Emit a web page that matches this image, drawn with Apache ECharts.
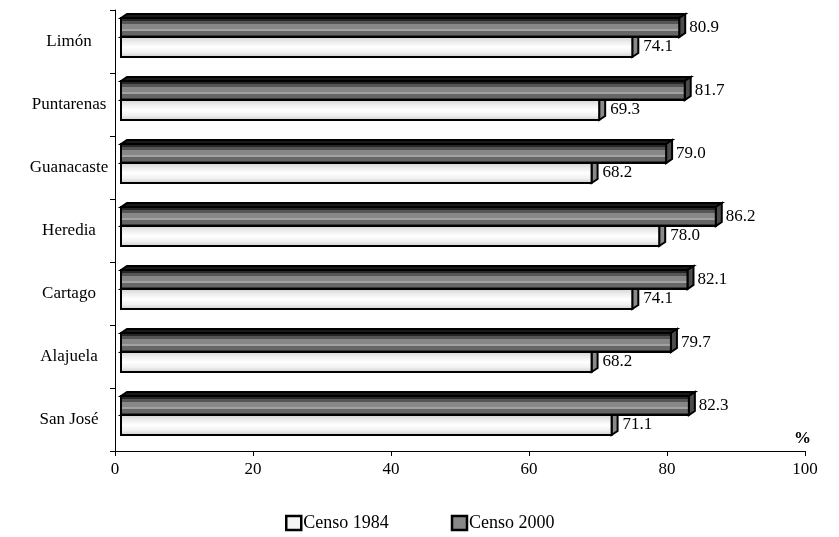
<!DOCTYPE html>
<html>
<head>
<meta charset="utf-8">
<script src="https://cdn.jsdelivr.net/npm/echarts@6/dist/echarts.min.js"></script>
<style>
  html, body { margin: 0; padding: 0; background: #fff; }
  #chart { width: 839px; height: 537px; }
</style>
</head>
<body>
<div id="chart"></div>
<script>
// bottom to top, as on the y axis
const provinces = ['San José', 'Alajuela', 'Cartago', 'Heredia', 'Guanacaste', 'Puntarenas', 'Limón']
const censo1984 = [71.1, 68.2, 74.1, 78.0, 68.2, 69.3, 74.1]
const censo2000 = [82.3, 79.7, 82.1, 86.2, 79.0, 81.7, 80.9]
const xTicks = [0, 20, 40, 60, 80, 100]

const FONT = '"Liberation Serif", "Times New Roman", serif'

const grad2000 = new echarts.graphic.LinearGradient(0, 0, 0, 1, [
  { offset: 0, color: '#262626' },
  { offset: 0.18, color: '#262626' },
  { offset: 0.18, color: '#555555' },
  { offset: 0.35, color: '#555555' },
  { offset: 0.35, color: '#878787' },
  { offset: 0.55, color: '#878787' },
  { offset: 0.55, color: '#a2a2a2' },
  { offset: 0.68, color: '#a2a2a2' },
  { offset: 0.68, color: '#666666' },
  { offset: 0.85, color: '#666666' },
  { offset: 0.85, color: '#383838' },
  { offset: 1, color: '#383838' },
])
const grad1984 = new echarts.graphic.LinearGradient(0, 0, 0, 1, [
  { offset: 0, color: '#d0d0d0' },
  { offset: 0.25, color: '#ebebeb' },
  { offset: 0.5, color: '#ffffff' },
  { offset: 0.75, color: '#f0f0f0' },
  { offset: 1, color: '#c8c8c8' },
])

// pseudo 3D bar: front face, top face, end cap, value label
function bar3d(top, bottom, front, capColor, topColor, gap) {
  return (params, api) => {
    const v = api.value(0)
    const cat = api.value(1)
    const p0 = api.coord([0, cat])
    const p1 = api.coord([v, cat])
    const band = api.size([0, 1])[1]
    const c = p0[1]
    const y0 = c + top * band
    const y1 = c + bottom * band
    const x0 = p0[0] + 6
    const x1 = p1[0] + 6
    const dx = 6, dy = 4
    const stroke = { stroke: '#000', lineWidth: 2 }
    return {
      type: 'group',
      children: [
        {
          type: 'polygon',
          shape: { points: [[x0, y0], [x0 + dx, y0 - dy], [x1 + dx, y0 - dy], [x1, y0]] },
          style: { fill: topColor, ...stroke },
        },
        {
          type: 'polygon',
          shape: { points: [[x1, y0], [x1 + dx, y0 - dy], [x1 + dx, y1 - dy], [x1, y1]] },
          style: { fill: capColor, ...stroke },
        },
        {
          type: 'rect',
          shape: { x: x0, y: y0, width: x1 - x0, height: y1 - y0 },
          style: { fill: front, ...stroke },
        },
        {
          type: 'text',
          style: {
            text: v.toFixed(1),
            x: x1 + dx + gap,
            y: (y0 + y1) / 2,
            verticalAlign: 'middle',
            fill: '#000',
            font: '17px ' + FONT,
          },
        },
      ],
    }
  }
}

const chart = echarts.init(document.getElementById('chart'))
chart.setOption({
  animation: false,
  backgroundColor: '#fff',
  grid: { left: 115, right: 34, top: 10, bottom: 86 },
  legend: {
    left: 285,
    top: 514,
    padding: 0,
    itemWidth: 15,
    itemHeight: 14,
    itemGap: 62,
    textStyle: { fontFamily: FONT, fontSize: 18, color: '#000', padding: [0, 0, 0, -3] },
    data: [
      { name: 'Censo 1984', icon: 'rect', itemStyle: { color: '#f4f4f4', borderColor: '#000', borderWidth: 2.5 } },
      { name: 'Censo 2000', icon: 'rect', itemStyle: { color: '#888888', borderColor: '#000', borderWidth: 2.5 } },
    ],
  },
  xAxis: {
    type: 'value',
    min: xTicks[0],
    max: xTicks[xTicks.length - 1],
    interval: xTicks[1] - xTicks[0],
    splitLine: { show: false },
    axisLine: { show: true, lineStyle: { color: '#000', width: 1 } },
    axisTick: { show: true, length: 5, lineStyle: { color: '#000' } },
    axisLabel: { color: '#000', fontFamily: FONT, fontSize: 17, margin: 10 },
  },
  yAxis: {
    type: 'category',
    data: provinces,
    axisLine: { show: true, lineStyle: { color: '#000', width: 1 } },
    axisTick: { show: true, length: 5, lineStyle: { color: '#000' } },
    axisLabel: { color: '#000', fontFamily: FONT, fontSize: 17, margin: 46, align: 'center', padding: [2, 0, 0, 0] },
  },
  graphic: [
    {
      type: 'text',
      left: 794,
      top: 430,
      style: { text: '%', font: 'bold 17px ' + FONT, fill: '#000' },
    },
  ],
  series: [
    {
      name: 'Censo 1984',
      type: 'custom',
      itemStyle: { color: '#fff' },
      renderItem: bar3d(-0.071, 0.246, grad1984, '#8a8a8a', '#c0c0c0', 5),
      encode: { x: 0, y: 1 },
      data: censo1984.map((v, i) => [v, i]),
    },
    {
      name: 'Censo 2000',
      type: 'custom',
      itemStyle: { color: '#888888' },
      renderItem: bar3d(-0.373, -0.071, grad2000, '#4c4c4c', '#1a1a1a', 4),
      encode: { x: 0, y: 1 },
      data: censo2000.map((v, i) => [v, i]),
    },
  ],
})
</script>
</body>
</html>
